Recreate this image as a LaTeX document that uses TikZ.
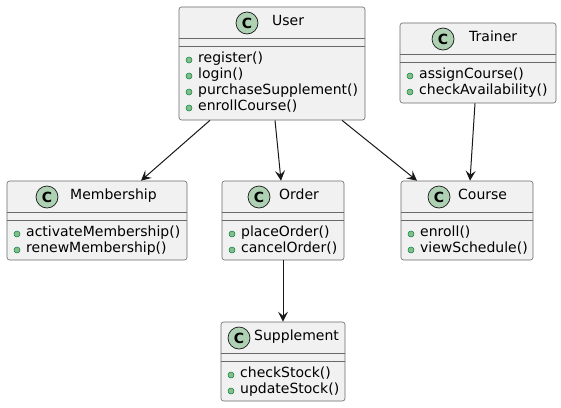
\documentclass[tikz,border=0pt]{standalone}
\usepackage{fontspec}
\setmainfont{DejaVu Sans}
\usetikzlibrary{arrows.meta}
\definecolor{boxfill}{HTML}{F1F1F1}
\definecolor{boxline}{HTML}{181818}
\definecolor{iconfill}{HTML}{ADD1B2}
\definecolor{dotfill}{HTML}{84BE84}
\definecolor{dotline}{HTML}{038048}
\begin{document}
\begin{tikzpicture}[x=1pt,y=-1pt,
    classbox/.style={draw=boxline!65, fill=boxfill, line width=0.6pt, rounded corners=2.5pt, inner sep=0pt},
    divider/.style={draw=boxline!65, line width=0.6pt},
    icon/.style={circle, draw=boxline, fill=iconfill, line width=0.7pt, minimum size=22pt, inner sep=0pt, font=\fontsize{14}{14}\selectfont\bfseries},
    cname/.style={anchor=mid west, inner sep=0pt, font=\fontsize{14}{16}\selectfont},
    method/.style={anchor=mid west, inner sep=0pt, font=\fontsize{14}{16}\selectfont},
    pubdot/.style={circle, draw=dotline, fill=dotfill, minimum size=6pt, inner sep=0pt, line width=0.5pt},
    assoc/.style={draw=boxline, line width=1pt, -{Stealth[length=10pt,width=10pt,inset=4pt]}}]
    \useasboundingbox (0,0) rectangle (561,407);

    % class boxes
    \node[classbox, minimum width=186pt, minimum height=113pt] (User) at (272,63.5) {};
    \node[classbox, minimum width=156pt, minimum height=80pt] (Trainer) at (478,63) {};
    \node[classbox, minimum width=180pt, minimum height=79pt] (Membership) at (97,220.5) {};
    \node[classbox, minimum width=122pt, minimum height=79pt] (Order) at (283,220.5) {};
    \node[classbox, minimum width=132pt, minimum height=79pt] (Course) at (467,220.5) {};
    \node[classbox, minimum width=124pt, minimum height=79pt] (Supplement) at (283,361.5) {};

    % header and attribute dividers
    \foreach \c in {User,Trainer,Membership,Order,Course,Supplement} {
        \draw[divider] ([yshift=-32pt]\c.north west) -- ([yshift=-32pt]\c.north east);
        \draw[divider] ([yshift=-40pt]\c.north west) -- ([yshift=-40pt]\c.north east);
    }

    % headers
    \node[icon] (User-icon) at (247,23) {C};
    \node[cname] (User-name) at (272,23) {User};
    \node[icon] (Trainer-icon) at (443,39) {C};
    \node[cname] (Trainer-name) at (469,39) {Trainer};
    \node[icon] (Membership-icon) at (47,197) {C};
    \node[cname] (Membership-name) at (70,197) {Membership};
    \node[icon] (Order-icon) at (259,197) {C};
    \node[cname] (Order-name) at (279,197) {Order};
    \node[icon] (Course-icon) at (439,197) {C};
    \node[cname] (Course-name) at (458,197) {Course};
    \node[icon] (Supplement-icon) at (239,338) {C};
    \node[cname] (Supplement-name) at (254,338) {Supplement};

    % methods
    \foreach \m [count=\i] in {register(),login(),purchaseSupplement(),enrollCourse()} {
        \node[pubdot] (User-d\i) at (189,44+16*\i) {};
        \node[method] (User-m\i) at (198,44+16*\i) {\m};
    }
    \foreach \m [count=\i] in {assignCourse(),checkAvailability()} {
        \node[pubdot] (Trainer-d\i) at (410,60+16*\i) {};
        \node[method] (Trainer-m\i) at (419,60+16*\i) {\m};
    }
    \foreach \m [count=\i] in {activateMembership(),renewMembership()} {
        \node[pubdot] (Membership-d\i) at (17,218+16*\i) {};
        \node[method] (Membership-m\i) at (26,218+16*\i) {\m};
    }
    \foreach \m [count=\i] in {placeOrder(),cancelOrder()} {
        \node[pubdot] (Order-d\i) at (232,218+16*\i) {};
        \node[method] (Order-m\i) at (241,218+16*\i) {\m};
    }
    \foreach \m [count=\i] in {enroll(),viewSchedule()} {
        \node[pubdot] (Course-d\i) at (411,218+16*\i) {};
        \node[method] (Course-m\i) at (420,218+16*\i) {\m};
    }
    \foreach \m [count=\i] in {checkStock(),updateStock()} {
        \node[pubdot] (Supplement-d\i) at (231,359+16*\i) {};
        \node[method] (Supplement-m\i) at (240,359+16*\i) {\m};
    }

    % associations
    \draw[assoc] ([xshift=-62pt]User.south) -- ([xshift=44pt]Membership.north);
    \draw[assoc] ([xshift=3pt]User.south) -- ([xshift=-2pt]Order.north);
    \draw[assoc] ([xshift=70pt]User.south) -- ([xshift=-50pt]Course.north);
    \draw[assoc] ([xshift=-3pt]Trainer.south) -- ([xshift=3pt]Course.north);
    \draw[assoc] (Order.south) -- (Supplement.north);
\end{tikzpicture}
\end{document}
